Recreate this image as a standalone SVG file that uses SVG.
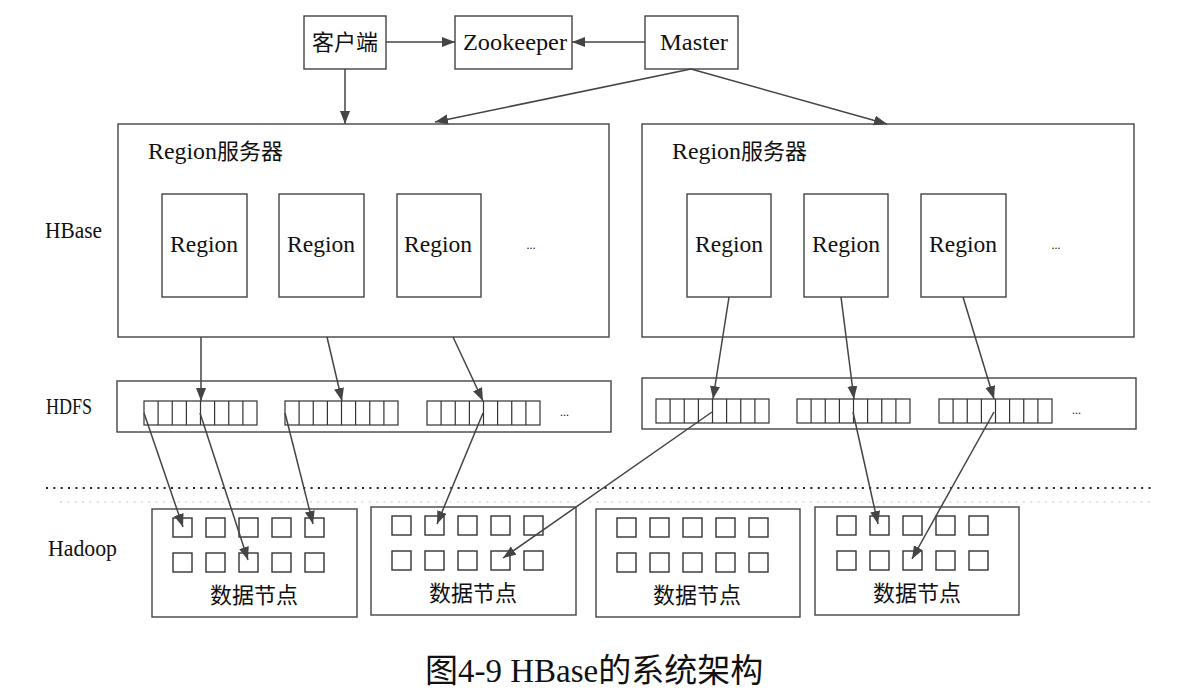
<svg xmlns="http://www.w3.org/2000/svg" width="1193" height="692" viewBox="0 0 1193 692">
<style>
.bx{fill:#fff;stroke:#444;stroke-width:1.4}
.sq{fill:#fff;stroke:#333;stroke-width:1.4}
.cell{fill:none;stroke:#333;stroke-width:1.2}
.t{font-family:"Liberation Serif","Noto Sans CJK SC",serif;font-size:24px;fill:#111}
.c{font-family:"Noto Sans CJK SC","Liberation Serif",sans-serif;font-size:21px;fill:#111}
.ln{stroke:#444;stroke-width:1.5;fill:none;marker-end:url(#ah)}
</style>
<defs>
<marker id="ah" markerUnits="userSpaceOnUse" markerWidth="14" markerHeight="12" refX="13" refY="5" orient="auto">
<path d="M0,0 L13,5 L0,10 z" fill="#444"/>
</marker>
<g id="cells">
<rect class="cell" x="0" y="0" width="113" height="24"/>
<path class="cell" d="M14.1,0v24M28.25,0v24M42.4,0v24M56.5,0v24M70.6,0v24M84.75,0v24M98.9,0v24"/>
</g>
<g id="sqs">
<rect class="sq" x="0" y="0" width="19" height="19"/>
<rect class="sq" x="33" y="0" width="19" height="19"/>
<rect class="sq" x="66" y="0" width="19" height="19"/>
<rect class="sq" x="99" y="0" width="19" height="19"/>
<rect class="sq" x="132" y="0" width="19" height="19"/>
<rect class="sq" x="0" y="35" width="19" height="19"/>
<rect class="sq" x="33" y="35" width="19" height="19"/>
<rect class="sq" x="66" y="35" width="19" height="19"/>
<rect class="sq" x="99" y="35" width="19" height="19"/>
<rect class="sq" x="132" y="35" width="19" height="19"/>
</g>
</defs>
<rect width="1193" height="692" fill="#fff"/>

<!-- layer labels -->
<text class="t" x="45" y="238" textLength="57" lengthAdjust="spacingAndGlyphs">HBase</text>
<text class="t" x="46" y="414" textLength="46" lengthAdjust="spacingAndGlyphs">HDFS</text>
<text class="t" x="48" y="556" textLength="69" lengthAdjust="spacingAndGlyphs">Hadoop</text>

<!-- dotted separator -->
<line x1="46" y1="488" x2="1152" y2="488" stroke="#222" stroke-width="2" stroke-dasharray="2 5.35"/>
<line x1="60" y1="502" x2="1152" y2="502" stroke="#e2e2e2" stroke-width="2" stroke-dasharray="2 5.35"/>

<!-- top nodes -->
<g id="client">
<rect class="bx" x="304" y="16" width="82" height="53"/>
<text class="c" x="345" y="50" text-anchor="middle" style="font-size:22px">客户端</text>
</g>
<g id="zookeeper">
<rect class="bx" x="455" y="16" width="117" height="53"/>
<text class="t" x="463" y="50" textLength="104" lengthAdjust="spacingAndGlyphs">Zookeeper</text>
</g>
<g id="master">
<rect class="bx" x="645" y="16" width="93" height="53"/>
<text class="t" x="660" y="50" textLength="68" lengthAdjust="spacingAndGlyphs">Master</text>
</g>

<!-- region server 1 -->
<g id="rs1">
<rect class="bx" x="118" y="124" width="491" height="213"/>
<text class="t" x="148" y="159"><tspan textLength="69" lengthAdjust="spacingAndGlyphs">Region</tspan><tspan class="c" style="font-size:22px">服务器</tspan></text>
<g id="rs1-r1"><rect class="bx" x="162" y="194" width="85" height="103"/><text class="t" x="170" y="252" textLength="68" lengthAdjust="spacingAndGlyphs">Region</text></g>
<g id="rs1-r2"><rect class="bx" x="279" y="194" width="85" height="103"/><text class="t" x="287" y="252" textLength="68" lengthAdjust="spacingAndGlyphs">Region</text></g>
<g id="rs1-r3"><rect class="bx" x="397" y="194" width="84" height="103"/><text class="t" x="404" y="252" textLength="68" lengthAdjust="spacingAndGlyphs">Region</text></g>
<text class="t" x="531" y="249" text-anchor="middle" style="font-size:12px">...</text>
</g>

<!-- region server 2 -->
<g id="rs2">
<rect class="bx" x="642" y="124" width="492" height="213"/>
<text class="t" x="672" y="159"><tspan textLength="69" lengthAdjust="spacingAndGlyphs">Region</tspan><tspan class="c" style="font-size:22px">服务器</tspan></text>
<g id="rs2-r1"><rect class="bx" x="687" y="194" width="84" height="103"/><text class="t" x="695" y="252" textLength="68" lengthAdjust="spacingAndGlyphs">Region</text></g>
<g id="rs2-r2"><rect class="bx" x="804" y="194" width="84" height="103"/><text class="t" x="812" y="252" textLength="68" lengthAdjust="spacingAndGlyphs">Region</text></g>
<g id="rs2-r3"><rect class="bx" x="921" y="194" width="85" height="103"/><text class="t" x="929" y="252" textLength="68" lengthAdjust="spacingAndGlyphs">Region</text></g>
<text class="t" x="1056" y="249" text-anchor="middle" style="font-size:12px">...</text>
</g>

<!-- HDFS -->
<g id="hdfs1">
<rect class="bx" x="117" y="381" width="494" height="51"/>
<use href="#cells" x="144" y="401"/>
<use href="#cells" x="285" y="401"/>
<use href="#cells" x="427" y="401"/>
<text class="t" x="560" y="416" style="font-size:12px">...</text>
</g>
<g id="hdfs2">
<rect class="bx" x="642" y="378" width="494" height="51"/>
<use href="#cells" x="656" y="399"/>
<use href="#cells" x="797" y="399"/>
<use href="#cells" x="939" y="399"/>
<text class="t" x="1072" y="414" style="font-size:12px">...</text>
</g>

<!-- data nodes -->
<g id="dn1">
<rect class="bx" x="152" y="509" width="205" height="108"/>
<use href="#sqs" x="173" y="518"/>
<text class="c" x="254" y="603" text-anchor="middle" style="font-size:22px">数据节点</text>
</g>
<g id="dn2">
<rect class="bx" x="371" y="507" width="205" height="108"/>
<use href="#sqs" x="392" y="516"/>
<text class="c" x="473" y="601" text-anchor="middle" style="font-size:22px">数据节点</text>
</g>
<g id="dn3">
<rect class="bx" x="596" y="509" width="204" height="108"/>
<use href="#sqs" x="617" y="518"/>
<text class="c" x="697" y="603" text-anchor="middle" style="font-size:22px">数据节点</text>
</g>
<g id="dn4">
<rect class="bx" x="815" y="507" width="204" height="108"/>
<use href="#sqs" x="837" y="516"/>
<text class="c" x="917" y="601" text-anchor="middle" style="font-size:22px">数据节点</text>
</g>

<!-- connectors -->
<g id="connectors">
<line class="ln" x1="386" y1="42" x2="455" y2="42"/>
<line class="ln" x1="645" y1="42" x2="572" y2="42"/>
<line class="ln" x1="345" y1="69" x2="345" y2="124"/>
<line class="ln" x1="691" y1="69" x2="435" y2="122"/>
<line class="ln" x1="691" y1="69" x2="887" y2="124"/>

<line class="ln" x1="201" y1="337" x2="201" y2="401"/>
<line class="ln" x1="327" y1="337" x2="342" y2="401"/>
<line class="ln" x1="453" y1="337" x2="483" y2="401"/>
<line class="ln" x1="729" y1="297" x2="713" y2="399"/>
<line class="ln" x1="841" y1="297" x2="854" y2="399"/>
<line class="ln" x1="963" y1="297" x2="994" y2="399"/>

<line class="ln" x1="144" y1="413" x2="183" y2="527"/>
<line class="ln" x1="200" y1="413" x2="248" y2="560"/>
<line class="ln" x1="285" y1="413" x2="313" y2="524"/>
<line class="ln" x1="483" y1="413" x2="437" y2="524"/>
<line class="ln" x1="712" y1="412" x2="503" y2="558"/>
<line class="ln" x1="853" y1="412" x2="878" y2="524"/>
<line class="ln" x1="994" y1="412" x2="912" y2="559"/>
</g>

<!-- caption -->
<text x="425" y="682" font-family="'Liberation Serif','Noto Sans CJK SC',serif" font-size="33" fill="#111">图4-9 HBase的系统架构</text>
</svg>
